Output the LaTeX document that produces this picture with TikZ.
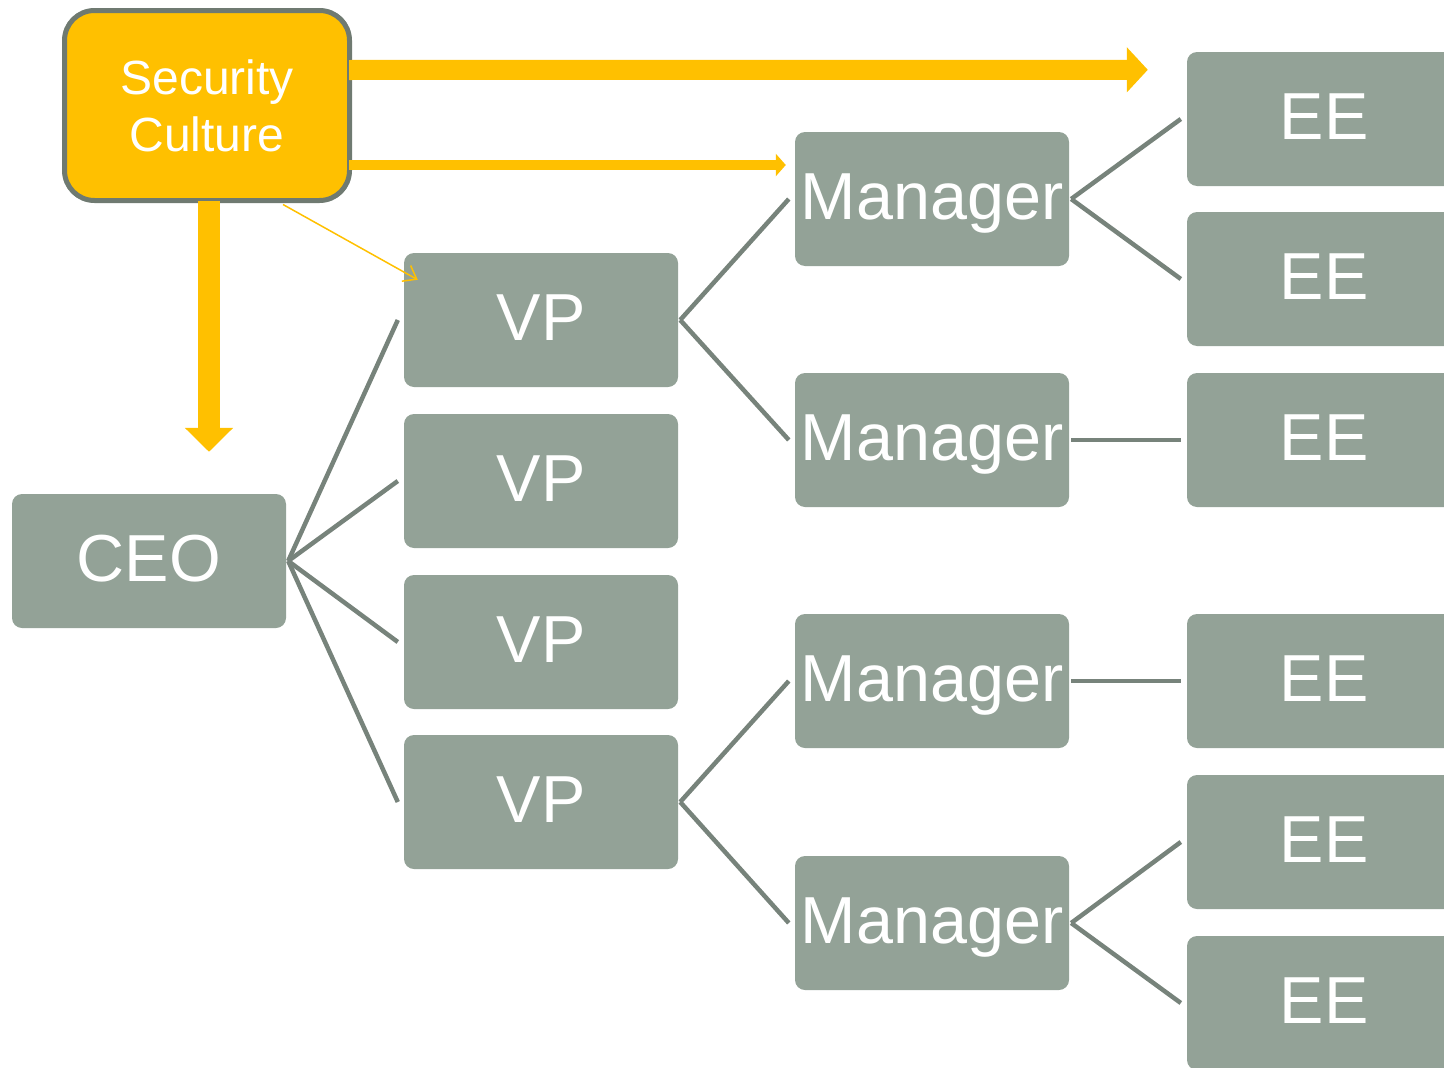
\documentclass[tikz,border=0pt]{standalone}
\usepackage{fontspec}
\setmainfont{Liberation Sans}
\usetikzlibrary{arrows.meta,calc}
\definecolor{boxgray}{HTML}{93A297}
\definecolor{linegray}{HTML}{77837B}
\definecolor{gold}{HTML}{FFC000}
\definecolor{rimgray}{HTML}{6F7A71}

\begin{document}
\begin{tikzpicture}[x=1pt,y=-1pt,
  org/.style={rectangle, rounded corners=10pt, fill=boxgray, text=white,
    minimum width=274pt, minimum height=134pt, inner sep=0pt,
    text height=48pt, text depth=7pt,
    font=\fontsize{66.5}{70}\selectfont},
  culture/.style={rectangle, rounded corners=30pt, fill=gold, draw=rimgray,
    line width=5pt, minimum width=285pt, minimum height=190pt, inner sep=0pt,
    text=white, align=center, font=\fontsize{48}{57}\selectfont},
  link/.style={draw=linegray, line width=4.5pt},
  push/.style={draw=gold, line join=miter}]

\useasboundingbox (0,0) rectangle (1444,1068);
\clip (0,0) rectangle (1444,1068);

% security culture box
\node[culture] (sec) at (207,105.5) {Security\\Culture};

% organisation chart
\node[org] (ceo) at (149,561) {CEO};

\node[org] (vp1) at (541,320) {VP};
\node[org] (vp2) at (541,481) {VP};
\node[org] (vp3) at (541,642) {VP};
\node[org] (vp4) at (541,802) {VP};

\node[org] (m1) at (932,199) {Manager};
\node[org] (m2) at (932,440) {Manager};
\node[org] (m3) at (932,681) {Manager};
\node[org] (m4) at (932,923) {Manager};

\node[org] (ee1) at (1324,119) {EE};
\node[org] (ee2) at (1324,279) {EE};
\node[org] (ee3) at (1324,440) {EE};
\node[org] (ee4) at (1324,681) {EE};
\node[org] (ee5) at (1324,842) {EE};
\node[org] (ee6) at (1324,1003) {EE};

% reporting lines
\foreach \v in {vp1,vp2,vp3,vp4}
  \draw[link] ([xshift=2pt]ceo.east) -- ([xshift=-6pt]\v.west);
\foreach \m in {m1,m2}
  \draw[link] ([xshift=2pt]vp1.east) -- ([xshift=-6pt]\m.west);
\foreach \m in {m3,m4}
  \draw[link] ([xshift=2pt]vp4.east) -- ([xshift=-6pt]\m.west);
\foreach \e in {ee1,ee2}
  \draw[link] ([xshift=2pt]m1.east) -- ([xshift=-6pt]\e.west);
\draw[link] ([xshift=2pt]m2.east) -- ([xshift=-6pt]ee3.west);
\draw[link] ([xshift=2pt]m3.east) -- ([xshift=-6pt]ee4.west);
\foreach \e in {ee5,ee6}
  \draw[link] ([xshift=2pt]m4.east) -- ([xshift=-6pt]\e.west);

% culture reaching every level
\coordinate (eetip) at ($(ee1.north west)+(-39,18)$);
\draw[push, line width=20pt, -{Triangle[length=21pt,width=44pt]}]
  ([xshift=-3pt,yshift=35.5pt]sec.east) -- (eetip);
\draw[push, line width=10pt, -{Triangle[length=10pt,width=22pt]}]
  ([xshift=-3pt,yshift=-59.5pt]sec.east) -- ([xshift=-9pt,yshift=34pt]m1.west);
\coordinate (down) at ($(sec.south)+(2,-2)$);
\draw[push, line width=22pt, -{Triangle[length=24pt,width=47pt]}]
  (down) -- ($(ceo.north -| down)+(0,-42)$);
\draw[draw=gold, line width=1.5pt, -{Straight Barb[length=12pt,width=18pt]}]
  ($(sec.south)+(76,1.5)$) -- ($(vp1.north west)+(14,27)$);
\end{tikzpicture}
\end{document}
